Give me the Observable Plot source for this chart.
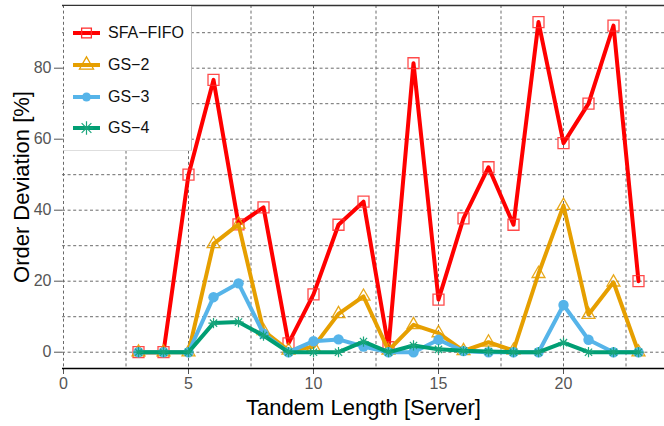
<!DOCTYPE html>
<html>
<head>
<meta charset="utf-8">
<script src="https://cdn.jsdelivr.net/npm/d3@7"></script>
<script src="https://cdn.jsdelivr.net/npm/@observablehq/plot@0.6"></script>
<style>
  html, body { margin: 0; padding: 0; background: #fff; }
  #wrap { position: relative; width: 664px; height: 426px; font-family: "Liberation Sans", Arial, sans-serif; }
  #legend { position: absolute; left: 64px; top: 6px; width: 127px; height: 144px; background: #fff;
            border-right: 1px solid #bdbdbd; border-bottom: 1px solid #dedede; }
  .row { position: absolute; left: 0; height: 20px; display: flex; align-items: center; }
  .row span { font-size: 16px; color: #111; margin-left: 7px; }
</style>
</head>
<body>
<div id="wrap"><div id="legend"></div></div>
<script>
// ---- data ----
const tandemLength = [3,4,5,6,7,8,9,10,11,12,13,14,15,16,17,18,19,20,21,22,23];
const sfaFifo = [0,0,50,76.7,36,40.8,2.5,16.3,35.9,42.4,1.4,81.4,14.8,37.7,52.1,35.9,93.0,58.9,70.0,92.0,20.0];
const gs2     = [0,0,0,30.5,36,6.0,0.5,1.5,10.8,15.7,0.5,7.7,5.4,0.4,2.8,0.5,22.1,41.3,10.6,19.7,0];
const gs3     = [0,0,0,15.5,19.4,5.2,0,3.1,3.6,1.6,0,0,3.5,0.3,0,0,0,13.3,3.5,0,0];
const gs4     = [0,0,0,8.2,8.5,4.7,0,0,0,3.0,0,1.9,0.8,0.4,0.2,0,0,2.7,0,0,0];
const seriesNames = ["SFA\u2212FIFO", "GS\u22122", "GS\u22123", "GS\u22124"];
const seriesColors = ["#ff0000", "#e69f00", "#56b4e9", "#009e73"];
const xTicks = [0,5,10,15,20];
const yTicks = [0,20,40,60,80];
const xGrid = [0,2.5,5,7.5,10,12.5,15,17.5,20,22.5];
const yGrid = [0,10,20,30,40,50,60,70,80,90];

const xDomain = [-0.04, 24.04];
const yDomain = [-4.59, 97.66];

const rows = (vals) => tandemLength.map((x, i) => ({x, y: vals[i]}));
const dSfa = rows(sfaFifo), dGs2 = rows(gs2), dGs3 = rows(gs3), dGs4 = rows(gs4);

const gridStyle = {stroke: "#6a6a6a", strokeWidth: 1, strokeDasharray: "3,2.6"};
const lineStyle = {strokeWidth: 4, strokeLinejoin: "round", strokeLinecap: "round"};

const chart = Plot.plot({
  width: 664, height: 426,
  marginLeft: 62, marginRight: 0, marginTop: 5, marginBottom: 58,
  style: {fontFamily: "Liberation Sans, Arial, sans-serif", fontSize: "16px", color: "#555", background: "#fff"},
  x: {domain: xDomain, ticks: xTicks, tickSize: 6, tickPadding: 3, label: null},
  y: {domain: yDomain, ticks: yTicks, tickSize: 8, tickPadding: 3, label: null},
  marks: [
    Plot.ruleX(xGrid, {...gridStyle}),
    Plot.ruleY(yGrid, {...gridStyle}),
    Plot.ruleY([yDomain[1]], {stroke: "#333", strokeWidth: 1.5}),
    Plot.ruleY([yDomain[0]], {stroke: "#000", strokeWidth: 1.5}),
    // SFA-FIFO
    Plot.line(dSfa, {x: "x", y: "y", stroke: seriesColors[0], ...lineStyle}),
    Plot.dot(dSfa, {x: "x", y: "y", symbol: "square", r: 6.2, fill: "none", stroke: "#ff2a2a", strokeWidth: 1.3, strokeOpacity: 0.85}),
    // GS-2
    Plot.line(dGs2, {x: "x", y: "y", stroke: seriesColors[1], ...lineStyle}),
    Plot.dot(dGs2, {x: "x", y: "y", symbol: "triangle", r: 4.8, fill: "none", stroke: seriesColors[1], strokeWidth: 1.3, strokeOpacity: 0.9}),
    // GS-3
    Plot.line(dGs3, {x: "x", y: "y", stroke: seriesColors[2], ...lineStyle}),
    Plot.dot(dGs3, {x: "x", y: "y", symbol: "circle", r: 5.2, fill: seriesColors[2], stroke: "none"}),
    // GS-4
    Plot.line(dGs4, {x: "x", y: "y", stroke: seriesColors[3], ...lineStyle}),
    Plot.dot(dGs4, {x: "x", y: "y", symbol: "plus", r: 3.4, stroke: "#1aa57c", strokeWidth: 1.2}),
    Plot.dot(dGs4, {x: "x", y: "y", symbol: "times", r: 3.4, stroke: "#1aa57c", strokeWidth: 1.2}),
    // axis titles
    Plot.text(["Tandem Length [Server]"], {frameAnchor: "bottom", dy: 39, textAnchor: "middle", lineAnchor: "middle", fontSize: 22, fill: "#000"}),
    Plot.text(["Order Deviation [%]"], {frameAnchor: "left", dx: -41, textAnchor: "middle", lineAnchor: "middle", rotate: -90, fontSize: 22, fill: "#000"})
  ]
});
document.getElementById("wrap").prepend(chart);

// ---- legend (inside the plot frame, top-left) ----
const legend = d3.select("#legend");
const symbolDefs = [
  {type: d3.symbolSquare, size: Math.PI * 5.5 * 5.5, fill: "none", stroke: "#ff2a2a"},
  {type: d3.symbolTriangle, size: Math.PI * 5.2 * 5.2, fill: "none", stroke: "#e69f00"},
  {type: d3.symbolCircle, size: Math.PI * 4.5 * 4.5, fill: "#56b4e9", stroke: "none"},
  null
];
const rowY = [27, 59, 91, 122];
seriesNames.forEach((name, i) => {
  const row = legend.append("div").attr("class", "row").style("top", (rowY[i] - 10) + "px").style("left", "8px");
  const svg = row.append("svg").attr("width", 29).attr("height", 20);
  svg.append("line").attr("x1", 1).attr("x2", 28).attr("y1", 10).attr("y2", 10)
     .attr("stroke", seriesColors[i]).attr("stroke-width", 4);
  const s = symbolDefs[i];
  if (s) {
    svg.append("path").attr("transform", "translate(14.5,10)")
       .attr("d", d3.symbol(s.type, s.size)())
       .attr("fill", s.fill).attr("stroke", s.stroke).attr("stroke-width", 1.3);
  } else {
    svg.append("path").attr("transform", "translate(14.5,10)")
       .attr("d", d3.symbol(d3.symbolPlus, Math.PI * 4.5 * 4.5)())
       .attr("stroke", "#1aa57c").attr("stroke-width", 1.2);
    svg.append("path").attr("transform", "translate(14.5,10)")
       .attr("d", d3.symbol(d3.symbolTimes, Math.PI * 4.5 * 4.5)())
       .attr("stroke", "#1aa57c").attr("stroke-width", 1.2);
  }
  row.append("span").text(name);
});
</script>
</body>
</html>
